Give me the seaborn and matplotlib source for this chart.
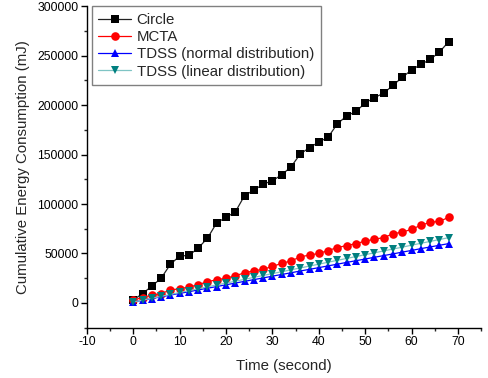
import matplotlib
matplotlib.use("Agg")
import matplotlib.pyplot as plt
from matplotlib.ticker import MultipleLocator
import seaborn as sns
import pandas as pds

# time axis, one sample every 2 seconds
time_s = list(range(0, 70, 2))

circle = [3000, 9500, 17000, 25000, 39000, 47500, 48000, 55500, 65500, 81000,
          86500, 92000, 108500, 114000, 120000, 123500, 129500, 137500, 150500,
          157000, 162500, 167500, 181000, 189000, 193500, 202000, 207500, 212000,
          220000, 228000, 235500, 241000, 246000, 253500, 264000]
mcta = [3000, 5500, 8000, 9500, 13000, 14500, 16000, 18500, 21500, 23500,
        25000, 27500, 30500, 32500, 34000, 37000, 40000, 42500, 46500, 48500,
        50000, 53000, 56000, 58000, 60000, 62500, 64500, 66000, 70000, 71500,
        74500, 78500, 81500, 82500, 86500]
tdss_normal = [1000, 2700, 4500, 6200, 8000, 9700, 11400, 13200, 14900, 16600,
               18400, 20100, 21900, 23600, 25300, 27100, 28800, 30500, 32300,
               34000, 35700, 37500, 39200, 41000, 42700, 44400, 46200, 47900,
               49600, 51400, 53100, 54900, 56600, 58300, 60000]
tdss_linear = [1000, 2900, 4800, 6700, 8600, 10600, 12500, 14400, 16300, 18200,
               20100, 22000, 23900, 25900, 27800, 29700, 31600, 33500, 35400,
               37300, 39200, 41200, 43100, 45000, 46900, 48800, 50700, 52600,
               54500, 56400, 58400, 60300, 62200, 64100, 66000]

series = [
    ("Circle", circle, "s", "black", "#222222"),
    ("MCTA", mcta, "o", "red", "red"),
    ("TDSS (normal distribution)", tdss_normal, "^", "blue", "blue"),
    ("TDSS (linear distribution)", tdss_linear, "v", "#007f7f", "#7fc4c4"),
]

sns.set_style("ticks")
plt.rcParams["font.family"] = ["Liberation Sans", "DejaVu Sans"]
plt.rcParams["axes.unicode_minus"] = False

fig = plt.figure(figsize=(4.88, 3.78), dpi=100)
ax = fig.add_axes([0.178, 0.133, 0.808, 0.851])

for name, vals, mk, mcol, lcol in series:
    df = pds.DataFrame({"t": time_s, "e": vals})
    sns.lineplot(data=df, x="t", y="e", ax=ax, label=name, color=lcol,
                 linewidth=0.9, marker=mk, markersize=6.2,
                 markerfacecolor=mcol, markeredgecolor=mcol, markeredgewidth=0)

ax.set_xlim(-10, 75)
ax.set_ylim(-25000, 300000)
ax.xaxis.set_major_locator(MultipleLocator(10))
ax.xaxis.set_minor_locator(MultipleLocator(5))
ax.yaxis.set_major_locator(MultipleLocator(50000))
ax.yaxis.set_minor_locator(MultipleLocator(25000))
ax.tick_params(which="major", direction="out", length=4, width=1, labelsize=8.8,
               colors="black", pad=2)
ax.tick_params(which="minor", direction="out", length=2.5, width=1)
for sp in ["left", "bottom"]:
    ax.spines[sp].set_color("black")
    ax.spines[sp].set_linewidth(1)
sns.despine(ax=ax)

ax.set_xlabel("Time (second)", fontsize=10.8, labelpad=8)
ax.set_ylabel("Cumulative Energy Consumption (mJ)", fontsize=10.8, labelpad=5)

leg = ax.legend(loc="upper left", bbox_to_anchor=(0.012, 1.0), borderaxespad=0,
                fontsize=10.8, frameon=True, fancybox=False, framealpha=1,
                edgecolor="gray", handlelength=2.2, handletextpad=0.35,
                labelspacing=0.22, borderpad=0.45)
leg.get_frame().set_linewidth(1)

fig.savefig("out.png", dpi=100)
plt.close()
